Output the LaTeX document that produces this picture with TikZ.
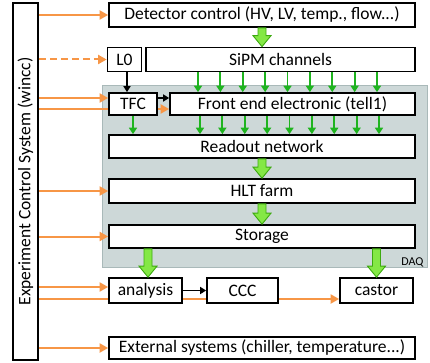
\documentclass[tikz,border=0pt]{standalone}
\usepackage{fontspec}
\setmainfont{Carlito}
\usetikzlibrary{arrows.meta,calc}
\pgfdeclarelayer{bg}\pgfdeclarelayer{mid}\pgfsetlayers{bg,mid,main}
\definecolor{orng}{HTML}{F79646}
\definecolor{sgreen}{HTML}{1FB41F}
\definecolor{bgfill}{HTML}{84E845}
\definecolor{bgdraw}{HTML}{3DAA10}
\definecolor{daqgray}{HTML}{CDD8D8}
\definecolor{daqedge}{HTML}{A9B9B9}
\tikzset{
  box/.style={draw, line width=1.7pt, fill=white, inner sep=0pt, font=\fontsize{17.5}{20}\selectfont},
  oarr/.style={draw=orng, line width=2pt, -{Triangle[length=8.5pt,width=9pt]}},
  odash/.style={oarr, dash pattern=on 7pt off 4pt},
  sarr/.style={draw=sgreen, line width=1.9pt, -{Triangle[length=6.5pt,width=8pt]}},
  barr/.style={draw=black, line width=1.6pt, -{Triangle[length=6pt,width=7pt]}},
  bigarr/.style={fill=bgfill, draw=bgdraw, line width=0.9pt, line join=miter}
}
\newcommand{\fatarrow}[2]{%
  \path[bigarr] ($(#1)+(-4,0)$) -- ($(#2)+(-4,-11)$) -- ($(#2)+(-9,-11)$) -- (#2)
    -- ($(#2)+(9,-11)$) -- ($(#2)+(4,-11)$) -- ($(#1)+(4,0)$) -- cycle;}
\begin{document}
\begin{tikzpicture}[x=1pt, y=-1pt]
\useasboundingbox (0,0) rectangle (430,363);
% DAQ area
\begin{pgfonlayer}{bg}
  \path[fill=daqgray, draw=daqedge, line width=0.8pt] (102,85) rectangle (427,267);
\end{pgfonlayer}
\node[font=\fontsize{12}{14}\selectfont, inner sep=0pt] (daqlbl) at (412.5,262.5) {DAQ};
% boxes
\node[box, minimum width=25pt, minimum height=357pt] (ecs) at (25.5,181.5) {\rotatebox{90}{Experiment Control System (wincc)}};
\node[box, minimum width=306pt, minimum height=24pt] (det) at (262,15) {Detector control (HV, LV, temp., flow...)};
\node[box, minimum width=34pt, minimum height=24pt] (l0) at (124.5,59.5) {L0};
\node[box, minimum width=269pt, minimum height=24pt] (sipm) at (280.5,59.5) {SiPM channels};
\node[box, minimum width=48pt, minimum height=22pt] (tfc) at (133,104) {TFC};
\node[box, minimum width=245pt, minimum height=22pt] (fe) at (292.5,104) {Front end electronic (tell1)};
\node[box, minimum width=306pt, minimum height=23pt] (ro) at (262,146.5) {Readout network};
\node[box, minimum width=306pt, minimum height=24pt] (hlt) at (262,191) {HLT farm};
\node[box, minimum width=306pt, minimum height=23pt] (sto) at (262,236.5) {Storage};
\node[box, minimum width=73pt, minimum height=25pt] (ana) at (145.5,290.5) {analysis};
\node[box, minimum width=71pt, minimum height=25pt] (ccc) at (242.5,290.5) {CCC};
\node[box, minimum width=73pt, minimum height=25pt] (cas) at (376.5,290.5) {castor};
\node[box, minimum width=306pt, minimum height=22pt] (ext) at (262,348) {External systems (chiller, temperature...)};
% orange connectors
\draw[oarr] (ecs.east |- det.west) -- (det.west);
\draw[odash] (ecs.east |- l0.west) -- (l0.west);
\coordinate (tfctgt) at ([yshift=6pt]tfc.west);
\draw[oarr] (ecs.east |- tfctgt) -- (tfctgt);
\coordinate (fetgt) at ([yshift=-5pt]fe.west);
\coordinate (anatgt) at ([yshift=3.5pt]ana.west);
\coordinate (castgt) at ([yshift=-8.5pt]cas.west);
\begin{pgfonlayer}{mid}
  \draw[oarr] (ecs.east |- fetgt) -- (fetgt);
  \draw[oarr] (ecs.east |- castgt) -- (castgt);
\end{pgfonlayer}
\draw[oarr] (ecs.east |- hlt.west) -- (hlt.west);
\draw[oarr] (ecs.east |- sto.west) -- (sto.west);
\draw[oarr] (ecs.east |- anatgt) -- (anatgt);
\draw[oarr] (ecs.east |- ext.west) -- (ext.west);
% black connectors
\coordinate (l0b) at ([xshift=2.5pt]l0.south);
\draw[barr] (l0b) -- (l0b |- tfc.north);
\coordinate (tfcr) at ([yshift=6pt]tfc.east);
\draw[barr] (tfcr) -- (tfcr -| fe.west);
\draw[barr] (ana.east) -- (ccc.west);
% small green arrows
\foreach \i in {0,...,8}{
  \coordinate (ta\i) at ({198+22.375*\i},0);
  \draw[sarr] (ta\i |- sipm.south) -- (ta\i |- fe.north);
  \coordinate (tb\i) at ({200+22.375*\i},0);
  \draw[sarr] (tb\i |- fe.south) -- (tb\i |- ro.north);
}
\draw[sarr] (tfc.south) -- (tfc.south |- ro.north);
% big green arrows
\coordinate (g1a) at (det.south); \coordinate (g1b) at (det.south |- sipm.north);
\fatarrow{g1a}{g1b}
\coordinate (g2a) at (ro.south); \coordinate (g2b) at (hlt.north);
\fatarrow{g2a}{g2b}
\coordinate (g3a) at (hlt.south); \coordinate (g3b) at (sto.north);
\fatarrow{g3a}{g3b}
\coordinate (g4b) at ([xshift=2.5pt]ana.north); \coordinate (g4a) at (g4b |- sto.south);
\fatarrow{g4a}{g4b}
\coordinate (g5b) at (cas.north); \coordinate (g5a) at (g5b |- sto.south);
\fatarrow{g5a}{g5b}
\end{tikzpicture}
\end{document}
